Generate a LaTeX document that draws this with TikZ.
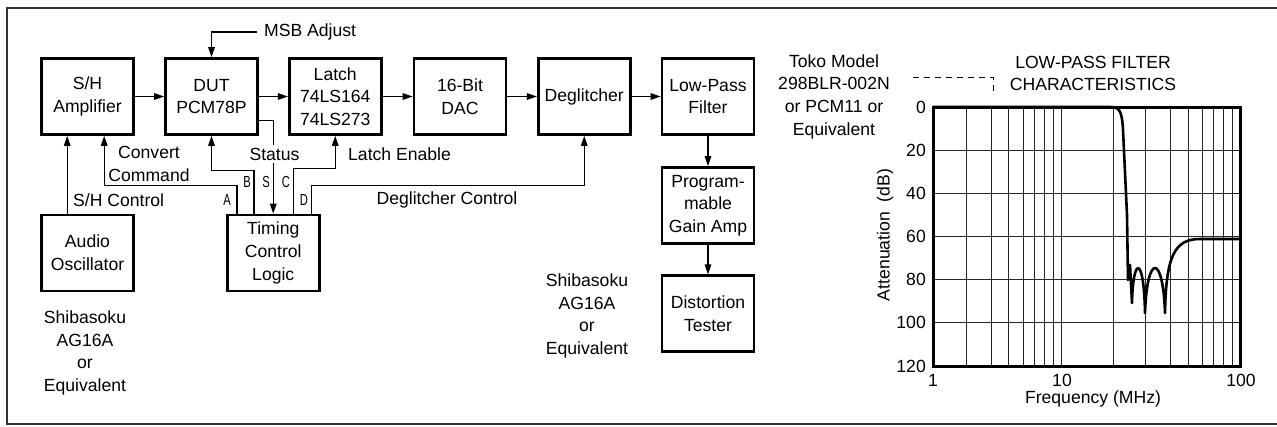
\documentclass[tikz,border=0pt]{standalone}
\usepackage{fontspec}
\setmainfont{Liberation Sans}
\newfontfamily\narrowfont[FakeStretch=0.7]{Liberation Sans}
\usetikzlibrary{arrows.meta}
\begin{document}
\begin{tikzpicture}[x=1pt,y=-1pt,
  every node/.style={font=\fontsize{17.6}{22.7}\selectfont, inner sep=0pt},
  blk/.style={draw, line width=2.6pt, minimum width=92pt, minimum height=76pt, align=center},
  conn/.style={line width=1.3pt},
  arr/.style={conn, -{Triangle[length=10pt,width=6.5pt]}},
  lbl/.style={align=center},
  letter/.style={font=\narrowfont\fontsize{16}{18}\selectfont},
  gridline/.style={line width=0.85pt, draw=black!85},
  frame/.style={line width=2.2pt, draw=black!80},
  dashedline/.style={line width=0.9pt, dash pattern=on 6pt off 5pt},
  curve/.style={line width=2.6pt, line join=round},
]
\useasboundingbox (0,0) rectangle (1277,426);
\draw[frame] (1277,8) -- (7,8) -- (7,424) -- (1277,424);

% blocks
\node[blk] (sh) at (87.5,96.5) {S/H\\Amplifier};
\node[blk] (dut) at (211.5,96.5) {DUT\\PCM78P};
\node[blk] (latch) at (335.25,96.5) {Latch\\74LS164\\74LS273};
\node[blk] (dac) at (460,96.5) {16-Bit\\DAC};
\node[blk] (degl) at (584.25,96.5) {Deglitcher};
\node[blk] (lpf) at (708,96.5) {Low-Pass\\Filter};
\node[blk] (pga) at (708,205.5) {Program-\\mable\\Gain Amp};
\node[blk] (dt) at (708,313.75) {Distortion\\Tester};
\node[blk] (ao) at (87.5,253) {Audio\\Oscillator};
\node[blk] (tcl) at (273.25,253) {Timing\\Control\\Logic};

% main chain
\draw[arr] (sh) -- (dut);
\draw[arr] (dut) -- (latch);
\draw[arr] (latch) -- (dac);
\draw[arr] (dac) -- (degl);
\draw[arr] (degl) -- (lpf);
\draw[arr] (lpf) -- (pga);
\draw[arr] (pga) -- (dt);

% MSB adjust
\node[lbl, anchor=west, inner xsep=7pt] (msb) at (257,32) {MSB Adjust};
\draw[arr] (msb.west) -| (dut.north);

% control lines
\draw[arr] ([xshift=27pt]ao.north west) -- ([xshift=27pt]sh.south west);
\draw[arr] ([xshift=11pt]tcl.north west) -- ++(0,-28) -| ([xshift=64pt]sh.south west);
\draw[arr] ([xshift=28pt]tcl.north west) -- ++(0,-43) -| (dut.south);
\draw[arr] ([yshift=15pt]dut.south east) -| (tcl.north);
\draw[arr] ([xshift=-27pt]tcl.north east) -- ++(0,-45) -| (latch.south);
\draw[arr] ([xshift=-9pt]tcl.north east) -- ++(0,-28) -| (degl.south);

% labels
\node[lbl, fill=white, inner ysep=3pt] (status) at (274.5,154) {Status};
\node[lbl] (convert) at (149,164) {Convert\\Command};
\node[lbl, anchor=west] (latchen) at (348,154) {Latch Enable};
\node[lbl, anchor=west] (shc) at (73,200) {S/H Control};
\node[lbl] (dc) at (447,200) {Deglitcher Control};
\node[letter] (la) at (227,200) {A};
\node[letter] (lb) at (247,182) {B};
\node[letter] (ls) at (266,182) {S};
\node[letter] (lc) at (286,182) {C};
\node[letter] (ld) at (304,200) {D};
\node[lbl] (shib1) at (85,353) {Shibasoku\\AG16A\\or\\Equivalent};
\node[lbl] (shib2) at (587,316) {Shibasoku\\AG16A\\or\\Equivalent};
\node[lbl] (toko) at (834,96.5) {Toko Model\\298BLR-002N\\or PCM11 or\\Equivalent};
\node[lbl] (lpchar) at (1093,73.5) {LOW-PASS FILTER\\CHARACTERISTICS};
\draw[dashedline] (913,77) -- (993,77) -- (993,94);

% chart
\foreach \xx in {966,991,1008,1023,1034,1044,1053,1061,1113,1145,1170,1188,1202,1213,1223,1232}
  \draw[gridline] (\xx,107) -- (\xx,366);
\foreach \yy in {150.2,193.3,236.5,279.7,322.8}
  \draw[gridline] (933,\yy) -- (1240.5,\yy);
\draw[line width=3pt] (933,107) rectangle (1240.5,366);
\draw[curve] (933,107) -- (1110,107) .. controls (1119,107) and (1122,110) .. (1123,130)
  -- (1127,215) -- (1128,280) -- (1130,265) -- (1132,303)
  .. controls (1133,255) and (1144,255) .. (1145,313)
  .. controls (1147,253) and (1163,253) .. (1165,313)
  .. controls (1166,255) and (1175,239) .. (1200,239) -- (1240.5,239);
\foreach \v/\yy in {0/107,20/150.2,40/193.3,60/236.5,80/279.7,100/322.8,120/366}
  \node[lbl, anchor=east] (t\v) at (926,\yy) {\v};
\node[lbl] (f1) at (933,380) {1};
\node[lbl] (f10) at (1062,380) {10};
\node[lbl] (f100) at (1241,380) {100};
\node[lbl] (fq) at (1093,399) {Frequency (MHz)};
\node[lbl, rotate=90] (att) at (885,235) {Attenuation\ \ (dB)};
\end{tikzpicture}
\end{document}
